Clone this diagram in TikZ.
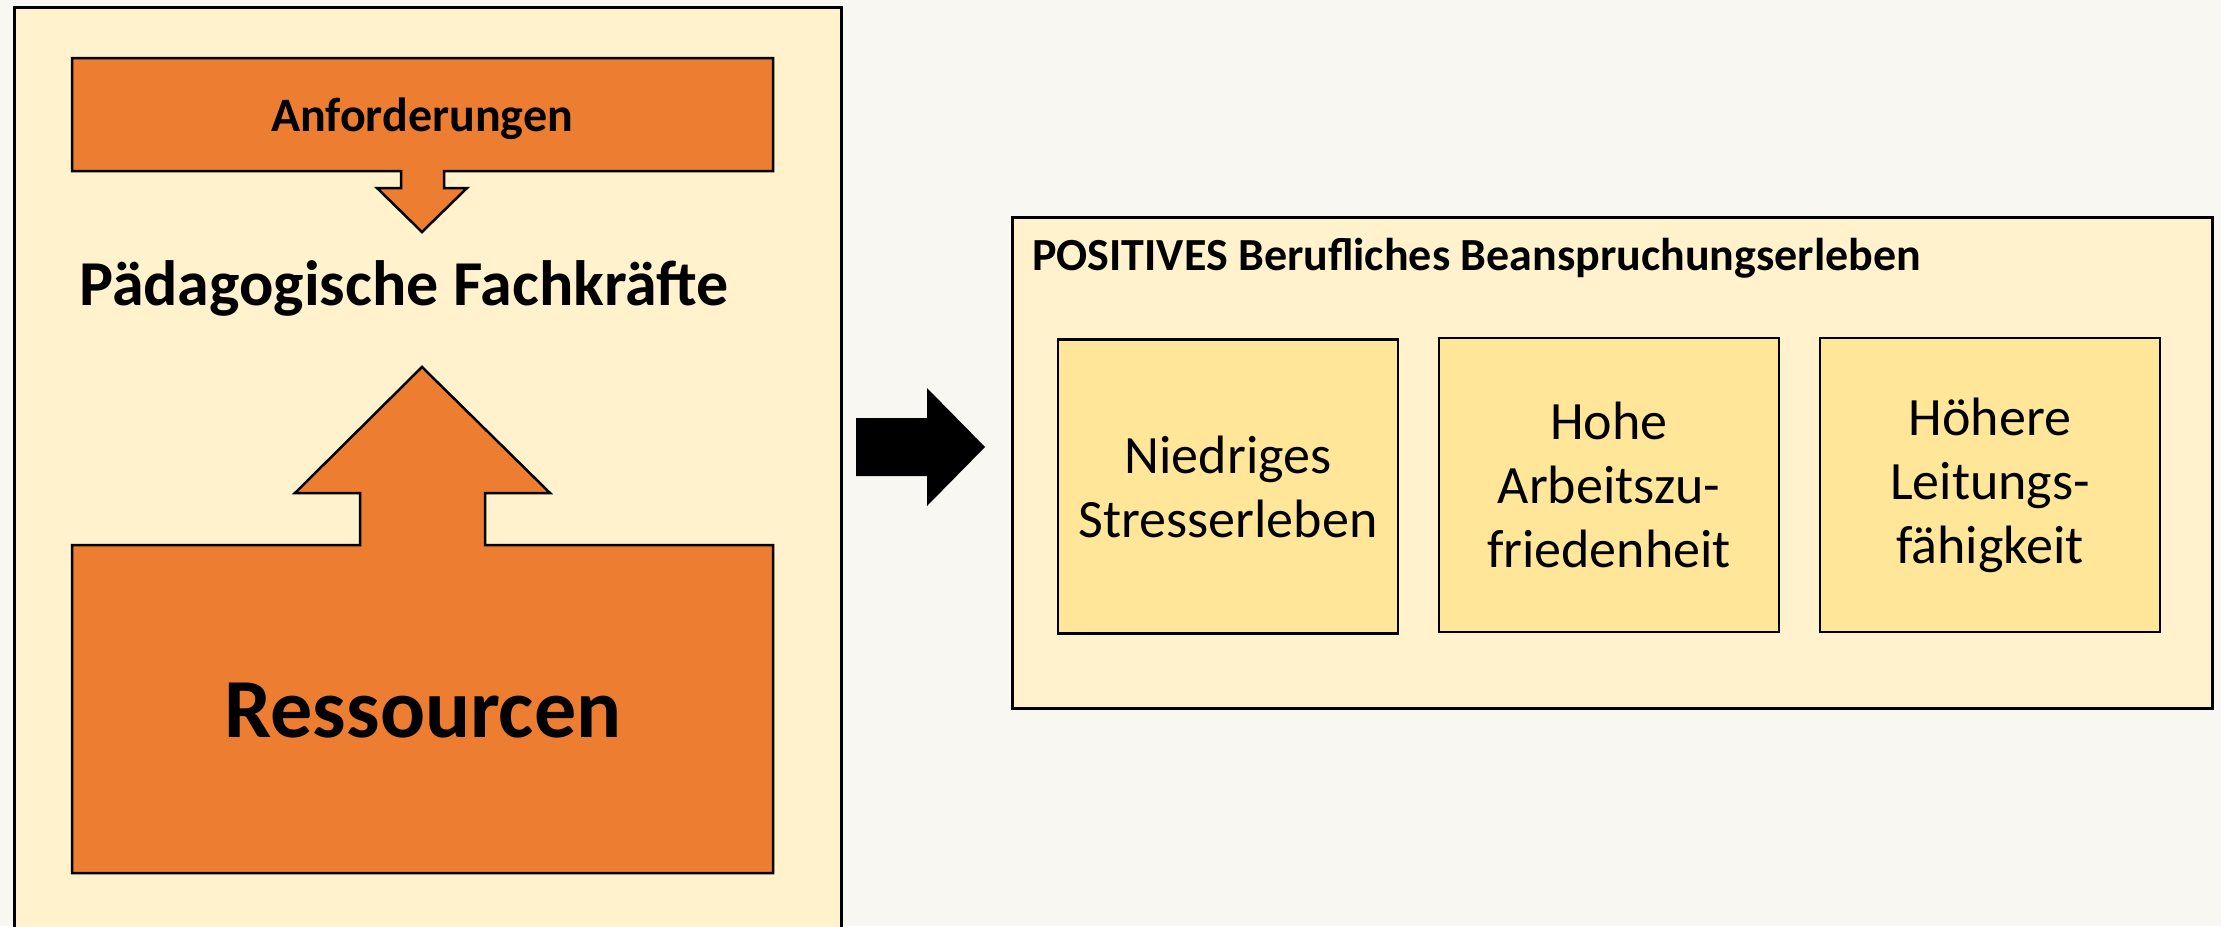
\documentclass[tikz,border=0pt]{standalone}
\usepackage{fontspec}
\setmainfont{Carlito}
\definecolor{bg}{HTML}{F9F7F1}
\definecolor{panel}{HTML}{FFF2CC}
\definecolor{orange}{HTML}{ED7D31}
\definecolor{inner}{HTML}{FFE699}
\tikzset{
  panelbox/.style={draw=black, fill=panel, line width=2.5pt, inner sep=0pt, anchor=north west},
  callout/.style={draw=black, fill=orange, line width=2.5pt, line join=miter},
  innerbox/.style={draw=black, fill=inner, line width=2.5pt, minimum width=340pt, minimum height=294pt, align=center, inner sep=0pt, font=\fontsize{54}{64}\selectfont},
  boldtext/.style={inner sep=0pt, font=\bfseries},
}
\begin{document}
\begin{tikzpicture}[x=1pt,y=-1pt]
\fill[bg] (0,0) rectangle (2221,926);
\useasboundingbox (0,0) rectangle (2221,926);
% left panel
\node[panelbox, minimum width=827pt, minimum height=950pt] (leftpanel) at (13,6) {};
% Anforderungen callout (down)
\draw[callout] (72,58) -- (773,58) -- (773,171) -- (444,171) -- (444,188) -- (467,188) -- (422,232) -- (377,188) -- (401,188) -- (401,171) -- (72,171) -- cycle;
\node[boldtext, anchor=base, font=\bfseries\fontsize{48}{52}\selectfont] (anf) at (422,131) {Anforderungen};
% Paedagogische Fachkraefte
\node[boldtext, anchor=base, font=\bfseries\fontsize{64}{70}\selectfont] (pf) at (404,305) {Pädagogische Fachkräfte};
% Ressourcen callout (up)
\draw[callout] (72,873) -- (773,873) -- (773,545) -- (485,545) -- (485,493) -- (550,493) -- (422,367) -- (295,493) -- (360,493) -- (360,545) -- (72,545) -- cycle;
\node[boldtext, anchor=base, font=\bfseries\fontsize{84}{90}\selectfont] (res) at (423,737) {Ressourcen};
% black arrow
\fill[black] (856,418) -- (927,418) -- (927,388) -- (985,447) -- (927,506) -- (927,476) -- (856,476) -- cycle;
% right panel
\node[panelbox, minimum width=1200pt, minimum height=491pt] (rightpanel) at (1011,216) {};
\node[boldtext, anchor=base west, font=\bfseries\fontsize{46}{50}\selectfont] (title) at (1032,270) {POSITIVES Berufliches Beanspruchungserleben};
\node[innerbox] (b1) at (1228,486.5) {Niedriges\\Stresserleben};
\node[innerbox] (b2) at (1609,485) {Hohe\\Arbeitszu-\\friedenheit};
\node[innerbox] (b3) at (1990,485) {Höhere\\Leitungs-\\fähigkeit};
\end{tikzpicture}
\end{document}
